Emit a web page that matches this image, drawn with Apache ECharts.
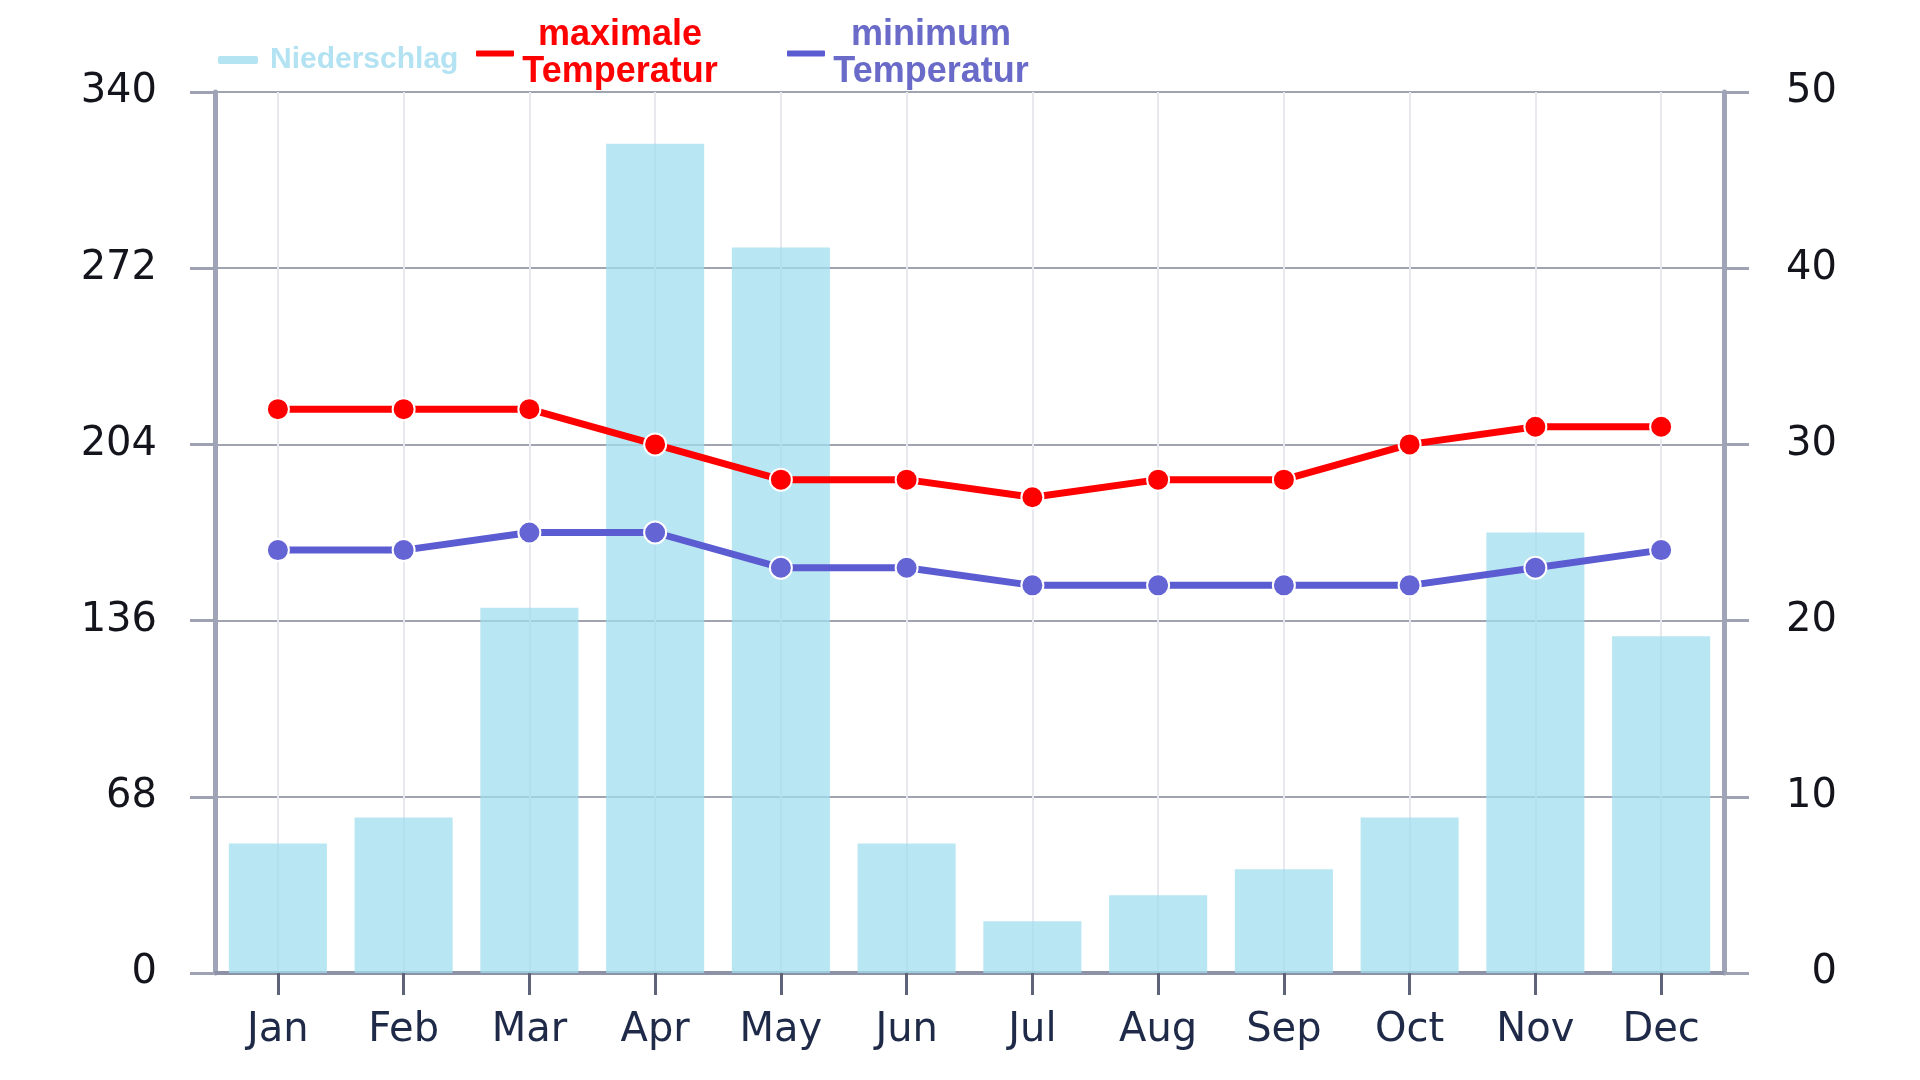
<!DOCTYPE html>
<html>
<head>
<meta charset="utf-8">
<script src="https://cdn.jsdelivr.net/npm/echarts@6/dist/echarts.min.js"></script>
<style>
html,body{margin:0;padding:0;background:#fff;}
#chart{width:1920px;height:1080px;}
</style>
</head>
<body>
<div id="chart"></div>
<script>
const months = ['Jan','Feb','Mar','Apr','May','Jun','Jul','Aug','Sep','Oct','Nov','Dec'];
const precipitation = [50, 60, 141, 320, 280, 50, 20, 30, 40, 60, 170, 130];
const maxTemp = [32, 32, 32, 30, 28, 28, 27, 28, 28, 30, 31, 31];
const minTemp = [24, 24, 25, 25, 23, 23, 22, 22, 22, 22, 23, 24];
const leftTicks = [0, 340, 68];   // min, max, interval
const rightTicks = [0, 50, 10];

const chart = echarts.init(document.getElementById('chart'));
const barColor = 'rgba(160,222,238,0.75)';
const red = '#ff0000';
const blue = '#5c5cd2';

function richLegend(color, width) {
  return {
    formatter: function (name) {
      return name.split(' ').map(function (p) { return '{t|' + p + '}'; }).join('\n');
    },
    textStyle: {
      rich: {
        t: { fontFamily: 'Liberation Sans', fontWeight: 'bold', fontSize: 36, color: color, lineHeight: 37, width: width, align: 'center' }
      }
    }
  };
}

const axisLineColor = '#a0a4b8';
const labelFont = { fontFamily: 'DejaVu Sans', fontSize: 40 };

chart.setOption({
  animation: false,
  legend: [
    {
      left: 213, top: 40,
      icon: 'roundRect', itemWidth: 40, itemHeight: 8,
      data: [{ name: 'Niederschlag', itemStyle: { color: '#b4e4f1' } }],
      textStyle: { fontFamily: 'Liberation Sans', fontWeight: 'bold', fontSize: 30, color: '#b3e3f2', padding: [0, 0, 0, 7] },
      selectedMode: false
    },
    Object.assign({
      left: 469, top: 12,
      icon: 'roundRect', itemWidth: 40, itemHeight: 8,
      data: [{ name: 'maximale Temperatur', itemStyle: { color: red } }],
      selectedMode: false
    }, richLegend(red, 200)),
    Object.assign({
      left: 780, top: 12,
      icon: 'roundRect', itemWidth: 40, itemHeight: 8,
      data: [{ name: 'minimum Temperatur', itemStyle: { color: blue } }],
      selectedMode: false
    }, richLegend('#6a6ac8', 200))
  ],
  grid: { left: 215, right: 196, top: 92, bottom: 107, containLabel: false, outerBoundsMode: 'none' },
  xAxis: {
    type: 'category',
    data: months,
    axisLine: { lineStyle: { color: '#8e92a6', width: 4 } },
    axisTick: { show: true, alignWithLabel: true, length: 22, lineStyle: { color: '#5f6378', width: 3 } },
    axisLabel: Object.assign({ color: '#1e2a48', margin: 38 }, labelFont),
    splitLine: { show: true, alignWithLabel: true, lineStyle: { color: '#e8e8ef', width: 2 } }
  },
  yAxis: [
    {
      type: 'value', min: leftTicks[0], max: leftTicks[1], interval: leftTicks[2], position: 'left',
      axisLine: { show: true, lineStyle: { color: axisLineColor, width: 5 } },
      axisTick: { show: true, length: 25, lineStyle: { color: '#9ea2b2', width: 3 } },
      axisLabel: Object.assign({ color: '#14141c', margin: 58 }, labelFont),
      splitLine: { show: true, lineStyle: { color: '#a0a3b0', width: 2 } }
    },
    {
      type: 'value', min: rightTicks[0], max: rightTicks[1], interval: rightTicks[2], position: 'right',
      axisLine: { show: true, lineStyle: { color: axisLineColor, width: 5 } },
      axisTick: { show: true, length: 25, lineStyle: { color: '#9ea2b2', width: 3 } },
      axisLabel: Object.assign({ color: '#14141c', margin: 113, align: 'right' }, labelFont),
      splitLine: { show: false }
    }
  ],
  series: [
    {
      name: 'Niederschlag', type: 'bar', yAxisIndex: 0, data: precipitation,
      barCategoryGap: '22%',
      itemStyle: { color: barColor }
    },
    {
      name: 'maximale Temperatur', type: 'line', yAxisIndex: 1, data: maxTemp,
      symbol: 'circle', symbolSize: 22,
      lineStyle: { color: red, width: 7 },
      itemStyle: { color: red, borderColor: '#fff', borderWidth: 2 },
      z: 3
    },
    {
      name: 'minimum Temperatur', type: 'line', yAxisIndex: 1, data: minTemp,
      symbol: 'circle', symbolSize: 22,
      lineStyle: { color: blue, width: 7 },
      itemStyle: { color: '#6464d4', borderColor: '#fff', borderWidth: 2 },
      z: 3
    }
  ]
});
</script>
</body>
</html>
